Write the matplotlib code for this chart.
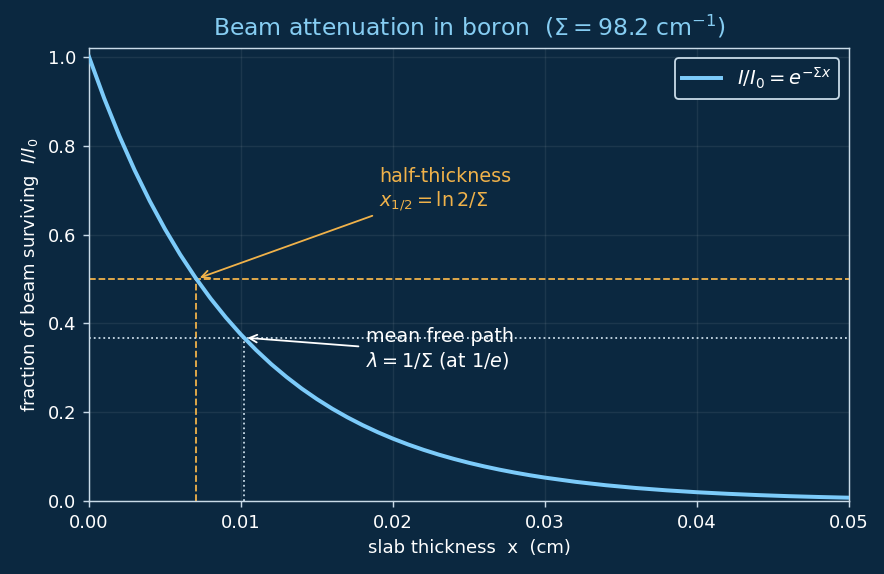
import matplotlib
matplotlib.use("Agg")
import matplotlib.pyplot as plt

# macroscopic cross section of boron (1/cm)
sigma = 98.2

# slab thickness (cm) and surviving fraction
thickness = [0.000, 0.001, 0.002, 0.003, 0.004, 0.005, 0.006, 0.007, 0.008, 0.009,
             0.010, 0.011, 0.012, 0.013, 0.014, 0.015, 0.016, 0.017, 0.018, 0.019,
             0.020, 0.021, 0.022, 0.023, 0.024, 0.025, 0.026, 0.027, 0.028, 0.029,
             0.030, 0.032, 0.034, 0.036, 0.038, 0.040, 0.042, 0.044, 0.046, 0.048,
             0.050]
surviving = [1.000, 0.9065, 0.8217, 0.7449, 0.6752, 0.6121, 0.5548, 0.5030, 0.4559,
             0.4133, 0.3746, 0.3396, 0.3078, 0.2791, 0.2529, 0.2293, 0.2078, 0.1884,
             0.1708, 0.1548, 0.1403, 0.1272, 0.1153, 0.1045, 0.0948, 0.0859, 0.0779,
             0.0706, 0.0640, 0.0580, 0.0526, 0.0432, 0.0355, 0.0292, 0.0240, 0.0197,
             0.0162, 0.0133, 0.0109, 0.0090, 0.0074]

# marked points
half_x, half_y = 0.00706, 0.5
mfp_x, mfp_y = 0.01018, 0.3679

bg = "#0b2840"
fg = "#ffffff"
spine = "#c9dbe8"
curve = "#7ccbfa"
orange = "#f0b24a"

fig = plt.figure(figsize=(6.8, 4.4154), dpi=130, facecolor=bg)
ax = fig.add_axes([0.1007, 0.1272, 0.8597, 0.7892], facecolor=bg)

ax.plot(thickness, surviving, color=curve, lw=2.2, label=r"$I/I_0 = e^{-\Sigma x}$", zorder=3)

# half-thickness guides
ax.axhline(half_y, color=orange, ls="--", lw=1.0)
ax.plot([half_x, half_x], [0, half_y], color=orange, ls="--", lw=1.0)

# mean free path guides
ax.axhline(mfp_y, color=spine, ls=":", lw=1.0)
ax.plot([mfp_x, mfp_x], [0, mfp_y], color=spine, ls=":", lw=1.0)

ax.annotate("half-thickness\n" + r"$x_{1/2} = \ln 2/\Sigma$",
            xy=(half_x, half_y), xytext=(0.0191, 0.70), color=orange, fontsize=10.6,
            va="center", ha="left",
            arrowprops=dict(arrowstyle="->", color=orange, lw=1.0, relpos=(0, 0)))
ax.annotate("mean free path\n" + r"$\lambda = 1/\Sigma$ (at $1/e$)",
            xy=(mfp_x, mfp_y), xytext=(0.0182, 0.342), color=fg, fontsize=10.6,
            va="center", ha="left",
            arrowprops=dict(arrowstyle="->", color=fg, lw=1.0, relpos=(0, 0.55)))

ax.set_xlim(0, 0.05)
ax.set_ylim(0, 1.02)
ax.grid(True, color="#ffffff", alpha=0.07, lw=0.8)
ax.set_axisbelow(True)

for s in ax.spines.values():
    s.set_color(spine)
ax.tick_params(colors=spine, labelcolor=fg, labelsize=10)

ax.set_xlabel("slab thickness  x  (cm)", color=fg, fontsize=10)
ax.set_ylabel(r"fraction of beam surviving  $I/I_0$", color=fg, fontsize=10)
ax.set_title(r"Beam attenuation in boron  ($\Sigma = %.1f$ cm$^{-1}$)" % sigma,
             color="#86cdf2", fontsize=13, pad=7)

leg = ax.legend(loc="upper right", facecolor=bg, edgecolor=spine, fontsize=10.8,
                labelcolor=fg, framealpha=1)

fig.savefig("out.png", dpi=130, facecolor=bg)
